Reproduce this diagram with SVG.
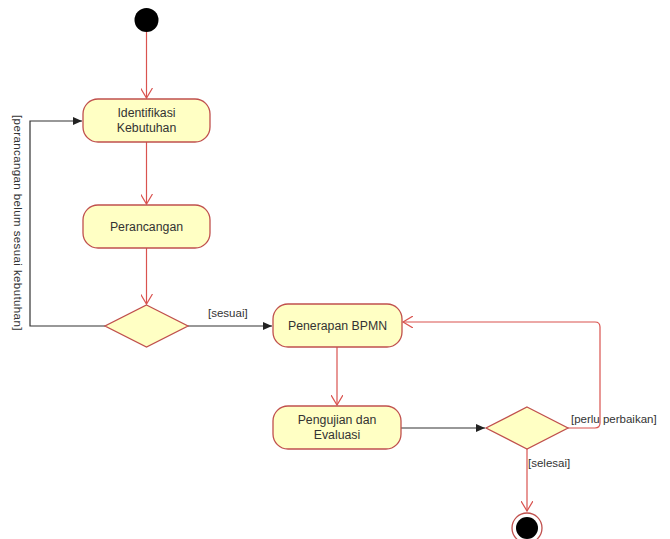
<svg xmlns="http://www.w3.org/2000/svg" width="670" height="539" viewBox="0 0 670 539">
<style>
.node{fill:#ffffc4;stroke:#c0504d;stroke-width:1.3}
.t{font-family:"Liberation Sans",Arial,sans-serif;font-size:12.3px;fill:#333;text-anchor:middle}
.lbl{font-family:"Liberation Sans",Arial,sans-serif;font-size:11.5px;fill:#333}
.red{fill:none;stroke:#d9534f;stroke-width:1.2}
.blk{fill:none;stroke:#333;stroke-width:1.2}
</style>
<defs>
<marker id="open" markerWidth="12" markerHeight="12" refX="10" refY="6" orient="auto" markerUnits="userSpaceOnUse">
<path d="M0,0 L10,6 L0,12" fill="none" stroke="#d9534f" stroke-width="1.2"/>
</marker>
<marker id="fill" markerWidth="10" markerHeight="10" refX="9" refY="5" orient="auto" markerUnits="userSpaceOnUse">
<path d="M0,1 L9,5 L0,9 Z" fill="#222"/>
</marker>
</defs>
<rect width="670" height="539" fill="#fff"/>
<g id="connectors">
<line class="red" x1="146.5" y1="32" x2="146.5" y2="98" marker-end="url(#open)"/>
<line class="red" x1="146.5" y1="142" x2="146.5" y2="204" marker-end="url(#open)"/>
<line class="red" x1="146.5" y1="248" x2="146.5" y2="304" marker-end="url(#open)"/>
<polyline class="blk" points="105,326 30,326 30,121 82,121" marker-end="url(#fill)"/>
<line class="blk" x1="188" y1="326" x2="272" y2="326" marker-end="url(#fill)"/>
<line class="red" x1="337" y1="347" x2="337" y2="405" marker-end="url(#open)"/>
<line class="blk" x1="401" y1="428" x2="485" y2="428" marker-end="url(#fill)"/>
<path class="red" d="M568,428 L595,428 Q600,428 600,423 L600,327 Q600,322 595,322 L403,322" marker-end="url(#open)"/>
<line class="red" x1="527" y1="448" x2="527" y2="511" marker-end="url(#open)"/>
<text class="lbl" font-size="12.4px" letter-spacing="0.4" transform="translate(14,115) rotate(90)">[perancangan belum sesuai kebutuhan]</text>
<text class="lbl" x="208" y="317">[sesuai]</text>
<text class="lbl" x="571" y="423">[perlu perbaikan]</text>
<text class="lbl" x="528" y="467">[selesai]</text>
</g>
<g id="start"><circle cx="146.5" cy="20" r="12" fill="#000"/></g>
<g id="identifikasi"><rect class="node" x="83" y="99" width="127" height="43" rx="15"/><text class="t" x="146.5" y="117">Identifikasi</text><text class="t" x="146.5" y="132">Kebutuhan</text></g>
<g id="perancangan"><rect class="node" x="83" y="205" width="127" height="43" rx="15"/><text class="t" x="146.5" y="231">Perancangan</text></g>
<g id="decision1"><polygon class="node" points="146.5,305 188,326 146.5,347 105,326"/></g>
<g id="penerapan"><rect class="node" x="273" y="304" width="129" height="43" rx="15"/><text class="t" x="337.5" y="330">Penerapan BPMN</text></g>
<g id="pengujian"><rect class="node" x="273" y="406" width="128" height="43" rx="15"/><text class="t" x="337" y="424">Pengujian dan</text><text class="t" x="337" y="439">Evaluasi</text></g>
<g id="decision2"><polygon class="node" points="527,407 568,428 527,449 486,428"/></g>
<g id="end"><circle cx="527" cy="528" r="15" fill="#fff" stroke="#c0504d" stroke-width="1.3"/><circle cx="527" cy="528" r="11" fill="#000"/></g>
</svg>
